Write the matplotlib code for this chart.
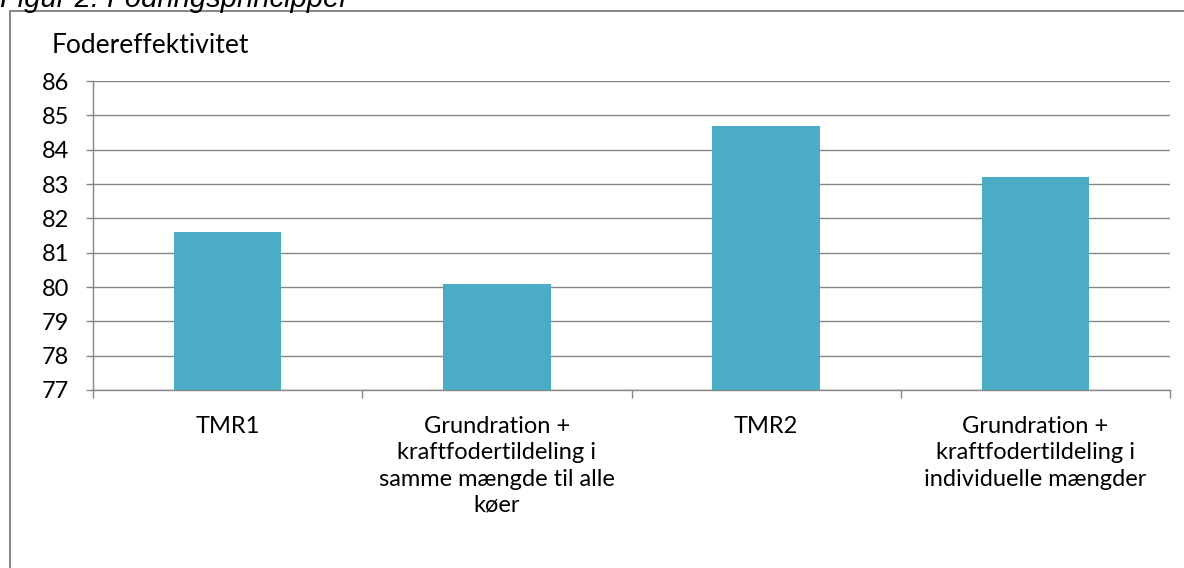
import matplotlib
matplotlib.use("Agg")
from matplotlib import pyplot as plt
from matplotlib.patches import Rectangle

categories = ["TMR1",
              "Grundration +\nkraftfodertildeling i\nsamme mængde til alle\nkøer",
              "TMR2",
              "Grundration +\nkraftfodertildeling i\nindividuelle mængder"]
values = [81.6, 80.1, 84.7, 83.2]
y_ticks = [77, 78, 79, 80, 81, 82, 83, 84, 85, 86]

plt.rcParams['font.family'] = ['Lato', 'DejaVu Sans']

W, H = 1184, 568
fig = plt.figure(figsize=(W / 100, H / 100), dpi=100)
grey = "#868686"
bar_col = "#4bacc6"

## chart frame (partly cut off at right and bottom)
fig.patches.append(Rectangle((9.5 / W, -0.1), 1.2, 1 - 11 / H + 0.1, transform=fig.transFigure,
                             fill=False, edgecolor=grey, lw=1.4))
fig.text(0, 1 - 7 / H, "Figur 2: Fodringsprincipper", fontsize=21, style='italic',
         family='Liberation Sans', va='baseline', ha='left')

ax = fig.add_axes([93 / W, 1 - 390 / H, (1170 - 93) / W, (390 - 81) / H])
x = list(range(len(categories)))
ax.bar(x, values, width=0.4, color=bar_col, zorder=3, bottom=0)
ax.set_ylim(77, 86)
ax.set_xlim(-0.5, len(categories) - 0.5)
ax.set_yticks(y_ticks)
ax.set_yticklabels([str(v) for v in y_ticks], fontsize=17)
ax.yaxis.grid(True, color=grey, lw=1.0, zorder=0)
ax.set_axisbelow(True)
ax.set_xticks([i - 0.5 for i in range(len(categories) + 1)])
ax.set_xticklabels([])
ax.set_xticks(x, minor=True)
ax.set_xticklabels(categories, minor=True, fontsize=17, linespacing=1.3, va='top')
ax.tick_params(axis='x', which='minor', length=0, pad=19)
ax.tick_params(axis='x', which='major', length=6, color=grey, width=1.0)
ax.tick_params(axis='y', length=5, color=grey, width=1.0, pad=12)
for s in ["top", "right"]:
    ax.spines[s].set_visible(False)
for s in ["left", "bottom"]:
    ax.spines[s].set_color(grey)
    ax.spines[s].set_linewidth(1.0)

fig.text(52 / W, 1 - 53 / H, "Fodereffektivitet", fontsize=19, va='baseline', ha='left')

fig.savefig("out.png", dpi=100)
